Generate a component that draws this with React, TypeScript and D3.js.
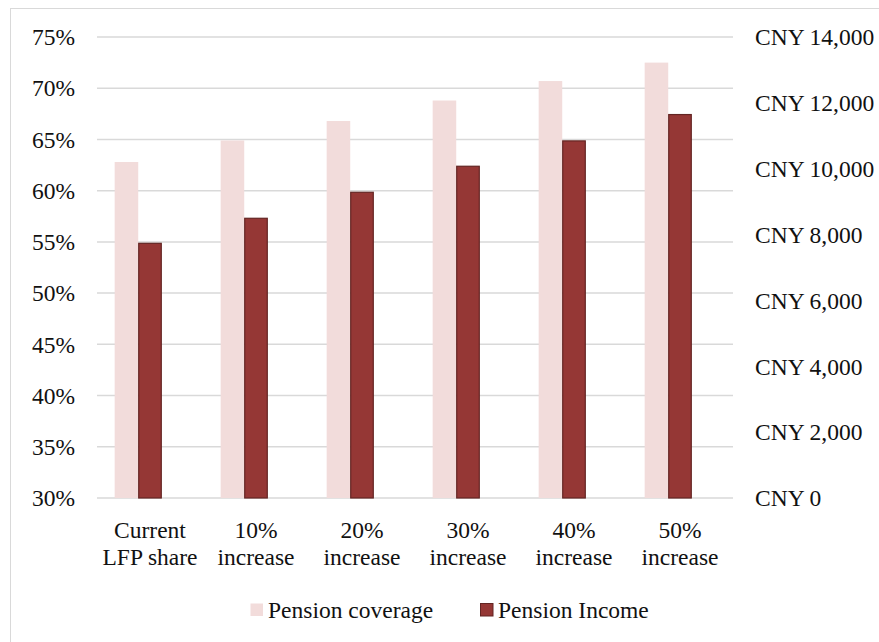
import React, { useEffect, useRef } from "react";
import * as d3 from "d3";

const categories = [
  ["Current", "LFP share"],
  ["10%", "increase"],
  ["20%", "increase"],
  ["30%", "increase"],
  ["40%", "increase"],
  ["50%", "increase"],
];
const coverage = [62.8, 64.9, 66.8, 68.8, 70.7, 72.5];
const income = [7750, 8510, 9300, 10090, 10860, 11660];
const leftTicks = [30, 35, 40, 45, 50, 55, 60, 65, 70, 75];
const rightTicks = [0, 2000, 4000, 6000, 8000, 10000, 12000, 14000];
const seriesNames = ["Pension coverage", "Pension Income"];

const FONT = "'Liberation Serif', serif";
const FS = 23.5;

const App: React.FC = () => {
  const ref = useRef<SVGSVGElement | null>(null);
  const width = 879;
  const height = 642;

  useEffect(() => {
    if (!ref.current) return;
    const svg = d3.select(ref.current);
    svg.selectAll("*").remove();

    const margin = { top: 37, right: 146, bottom: 144, left: 97 };
    const innerW = width - margin.left - margin.right;
    const innerH = height - margin.top - margin.bottom;

    // outer chart border
    svg.append("rect")
      .attr("x", 10.5).attr("y", 8.5)
      .attr("width", width + 10).attr("height", height + 10)
      .attr("fill", "white").attr("stroke", "#d9d9d9").attr("stroke-width", 1);

    const g = svg.append("g").attr("transform", `translate(${margin.left},${margin.top})`);

    const keys = categories.map(c => c.join(" "));
    const x0 = d3.scaleBand<string>().domain(keys).range([0, innerW]);
    const bw = x0.bandwidth();
    // third slot is an empty series (as in the original workbook)
    const x1 = d3.scaleBand<string>()
      .domain(["coverage", "income", "spare"])
      .range([bw / 6, (bw * 5) / 6]);

    const yL = d3.scaleLinear().domain([30, 75]).range([innerH, 0]);
    const yR = d3.scaleLinear().domain([0, 14000]).range([innerH, 0]);

    // grid
    g.append("g").selectAll("line").data(leftTicks).enter().append("line")
      .attr("x1", 0).attr("x2", innerW)
      .attr("y1", d => yL(d)).attr("y2", d => yL(d))
      .attr("stroke", "#d9d9d9").attr("stroke-width", 1.5);

    // left axis labels
    g.append("g").selectAll("text").data(leftTicks).enter().append("text")
      .attr("x", -22).attr("y", d => yL(d)).attr("dy", "0.35em")
      .attr("text-anchor", "end")
      .attr("font-family", FONT).attr("font-size", FS).attr("fill", "#111")
      .text(d => `${d}%`);

    // right axis labels
    const fmt = d3.format(",");
    g.append("g").selectAll("text").data(rightTicks).enter().append("text")
      .attr("x", innerW + 22).attr("y", d => yR(d)).attr("dy", "0.35em")
      .attr("text-anchor", "start")
      .attr("font-family", FONT).attr("font-size", FS).attr("fill", "#111")
      .text(d => `CNY ${fmt(d)}`);

    // coverage bars
    g.append("g").selectAll("rect").data(coverage).enter().append("rect")
      .attr("x", (_, i) => (x0(keys[i]) ?? 0) + (x1("coverage") ?? 0))
      .attr("y", d => yL(d))
      .attr("width", x1.bandwidth())
      .attr("height", d => innerH - yL(d))
      .attr("fill", "#f2dcdb");

    // income bars
    g.append("g").selectAll("rect").data(income).enter().append("rect")
      .attr("x", (_, i) => (x0(keys[i]) ?? 0) + (x1("income") ?? 0) + 0.5)
      .attr("y", d => yR(d) + 0.5)
      .attr("width", x1.bandwidth() - 1)
      .attr("height", d => innerH - yR(d) - 0.5)
      .attr("fill", "#953735")
      .attr("stroke", "#632523").attr("stroke-width", 1.2);

    // category labels
    const cat = g.append("g").selectAll("text").data(categories).enter().append("text")
      .attr("x", (_, i) => (x0(keys[i]) ?? 0) + bw / 2)
      .attr("y", innerH + 40)
      .attr("text-anchor", "middle")
      .attr("font-family", FONT).attr("font-size", FS).attr("fill", "#111");
    cat.append("tspan").attr("x", (_, i) => (x0(keys[i]) ?? 0) + bw / 2).text(d => d[0]);
    cat.append("tspan").attr("x", (_, i) => (x0(keys[i]) ?? 0) + bw / 2).attr("dy", 27).text(d => d[1]);

    // legend
    const legend = svg.append("g").attr("transform", "translate(250,603)");
    const items = [
      { name: seriesNames[0], fill: "#f2dcdb", stroke: "none", x: 0 },
      { name: seriesNames[1], fill: "#953735", stroke: "#632523", x: 230 },
    ];
    items.forEach(it => {
      legend.append("rect")
        .attr("x", it.x + 0.5).attr("y", 0.5).attr("width", 12.5).attr("height", 12.5)
        .attr("fill", it.fill).attr("stroke", it.stroke).attr("stroke-width", 1);
      legend.append("text")
        .attr("x", it.x + 18).attr("y", 6.5).attr("dy", "0.35em")
        .attr("font-family", FONT).attr("font-size", FS).attr("fill", "#111")
        .text(it.name);
    });
  }, []);

  return (
    <svg ref={ref} width={width} height={height}
      style={{ position: "absolute", left: 0, top: 0, display: "block" }} />
  );
};

export default App;
